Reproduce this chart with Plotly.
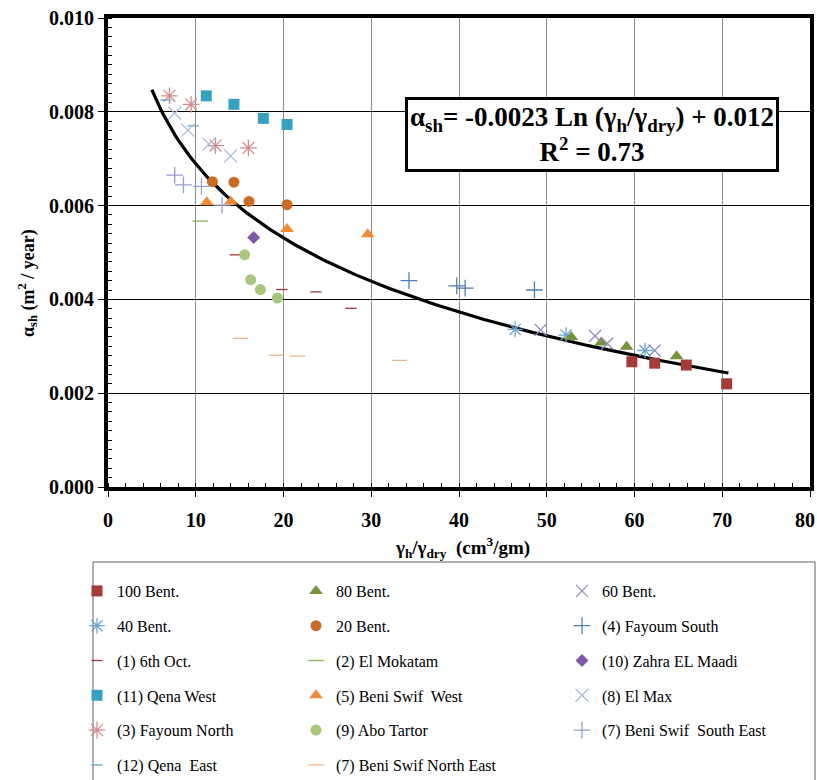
import numpy as np
import plotly.graph_objects as go

# ---------------- data ----------------
B100_X = [59.7, 62.3, 65.9, 70.5]
B100_Y = [0.00267, 0.00264, 0.00260, 0.00220]
B80_X = [52.8, 56.2, 59.1, 64.8]
B80_Y = [0.00320, 0.00308, 0.00299, 0.00279]
B60_X = [49.3, 55.5, 56.9, 62.3]
B60_Y = [0.00335, 0.00322, 0.00306, 0.00291]
B40_X = [46.4, 52.2, 61.2]
B40_Y = [0.00336, 0.00324, 0.00291]
B20_X = [11.9, 14.35, 16.07, 20.4]
B20_Y = [0.00651, 0.00650, 0.00609, 0.00602]
FAYOUM_S_X = [34.3, 39.75, 40.7, 48.6]
FAYOUM_S_Y = [0.00440, 0.00429, 0.00424, 0.00420]
OCT6_X = [14.5, 19.8, 23.7, 27.7]
OCT6_Y = [0.00495, 0.00421, 0.00416, 0.00381]
MOKATAM_X = [10.5]
MOKATAM_Y = [0.00567]
ZAHRA_X = [16.6]
ZAHRA_Y = [0.00532]
QENA_W_X = [11.2, 14.35, 17.7, 20.4]
QENA_W_Y = [0.00834, 0.00816, 0.00786, 0.00773]
BENI_W_X = [11.26, 14.0, 20.4, 29.6]
BENI_W_Y = [0.00607, 0.00609, 0.00550, 0.00539]
ELMAX_X = [7.6, 9.1, 11.5, 13.97]
ELMAX_Y = [0.00797, 0.00761, 0.00731, 0.00706]
FAYOUM_N_X = [7.0, 9.47, 12.25, 16.0]
FAYOUM_N_Y = [0.00834, 0.00816, 0.00728, 0.00723]
ABO_X = [15.57, 16.26, 17.37, 19.3]
ABO_Y = [0.00495, 0.00442, 0.00421, 0.00403]
BENI_SE_X = [7.6, 8.6, 10.65, 13.0]
BENI_SE_Y = [0.00665, 0.00644, 0.00641, 0.00601]
QENA_E_X = [6.6, 9.7]
QENA_E_Y = [0.00825, 0.00770]
BENI_NE_X = [15.1, 19.2, 21.6, 33.2]
BENI_NE_Y = [0.00317, 0.00281, 0.00279, 0.00270]

# logarithmic trendline as drawn (coefficients)
TREND_A = -0.00228
TREND_B = 0.01214
TREND_X_START = 5.0
TREND_X_END = 70.7

X_TICKS = [0, 10, 20, 30, 40, 50, 60, 70, 80]
X_TICK_LABELS = ["0", "10", "20", "30", "40", "50", "60", "70", "80\u00a0\u00a0"]
Y_TICKS = [0.000, 0.002, 0.004, 0.006, 0.008, 0.010]
Y_TICK_LABELS = ["0.000", "0.002", "0.004", "0.006", "0.008", "0.010"]

SERIF = "Liberation Serif"

# (name, x, y, symbol, color, size, legend)
series = [
    ("100 Bent.", B100_X, B100_Y, "square", "#A33B38", 11, "legend"),
    ("40 Bent.", B40_X, B40_Y, "asterisk-open", "#6EA6CF", 13, "legend"),
    ("(1) 6th Oct.", OCT6_X, OCT6_Y, "line-ew-open", "#9E3438", 8, "legend"),
    ("(11) Qena West", QENA_W_X, QENA_W_Y, "square", "#35A1BF", 11, "legend"),
    ("(3) Fayoum North", FAYOUM_N_X, FAYOUM_N_Y, "asterisk-open", "#D58C8C", 14, "legend"),
    ("(12) Qena  East", QENA_E_X, QENA_E_Y, "line-ew-open", "#5FA9CC", 8, "legend"),
    ("80 Bent.", B80_X, B80_Y, "triangle-up", "#76923C", 12, "legend2"),
    ("20 Bent.", B20_X, B20_Y, "circle", "#C96C26", 11, "legend2"),
    ("(2) El Mokatam", MOKATAM_X, MOKATAM_Y, "line-ew-open", "#8DAF5E", 11, "legend2"),
    ("(5) Beni Swif  West", BENI_W_X, BENI_W_Y, "triangle-up", "#F08A36", 12, "legend2"),
    ("(9) Abo Tartor", ABO_X, ABO_Y, "circle", "#A8C77E", 11, "legend2"),
    ("(7) Beni Swif North East", BENI_NE_X, BENI_NE_Y, "line-ew-open", "#F2B48A", 11, "legend2"),
    ("60 Bent.", B60_X, B60_Y, "x-thin-open", "#8A8CC4", 12, "legend3"),
    ("(4) Fayoum South", FAYOUM_S_X, FAYOUM_S_Y, "cross-thin-open", "#4F7FB8", 12, "legend3"),
    ("(10) Zahra EL Maadi", ZAHRA_X, ZAHRA_Y, "diamond", "#7E5AA6", 10, "legend3"),
    ("(8) El Max", ELMAX_X, ELMAX_Y, "x-thin-open", "#A7BBDD", 13, "legend3"),
    ("(7) Beni Swif  South East", BENI_SE_X, BENI_SE_Y, "cross-thin-open", "#9A9FCC", 12, "legend3"),
]

fig = go.Figure()

# trendline
tx = np.linspace(TREND_X_START, TREND_X_END, 200)
ty = TREND_A * np.log(tx) + TREND_B
fig.add_trace(go.Scatter(x=tx, y=ty, mode="lines", line=dict(color="black", width=3.2),
                         showlegend=False, hoverinfo="skip"))

for i, (name, xs, ys, sym, col, sz, leg) in enumerate(series):
    open_sym = sym.endswith("-open")
    fig.add_trace(go.Scatter(
        x=xs, y=ys, mode="markers", name=name, legend=leg, legendgroup=f"g{i}",
        marker=dict(symbol=sym, color=col, size=sz,
                    line=dict(color=col, width=1.3 if open_sym else 0)),
    ))

W, H = 817, 780
L_PX, R_PX, T_PX, B_PX = 108, 810, 18, 487
pw, ph = R_PX - L_PX, B_PX - T_PX


def px2paper_x(px):
    return (px - L_PX) / pw


def px2paper_y(py):
    return (B_PX - py) / ph


def leg(xpx, ytop):
    return dict(orientation="v", traceorder="grouped", tracegroupgap=11,
                font=dict(family=SERIF, size=16, color="black"),
                bgcolor="rgba(0,0,0,0)", borderwidth=0,
                xanchor="left", yanchor="top", itemwidth=30,
                x=px2paper_x(xpx), y=px2paper_y(ytop))


LEG_TOP = 574
fig.update_layout(
    width=W, height=H,
    margin=dict(l=L_PX, r=W - R_PX, t=T_PX, b=H - B_PX, autoexpand=False),
    paper_bgcolor="white", plot_bgcolor="white",
    font=dict(family=SERIF, color="black"),
    legend=leg(77, LEG_TOP),
    legend2=leg(296, LEG_TOP),
    legend3=leg(562, LEG_TOP),
    xaxis=dict(range=[0, 80], tickvals=X_TICKS, ticktext=X_TICK_LABELS,
               showgrid=True, gridcolor="#8c8c8c", gridwidth=1,
               zeroline=False, showline=True, mirror=True, linecolor="black", linewidth=4,
               ticks="outside", ticklen=6, tickcolor="black", tickwidth=1,
               ticklabelstandoff=6, ticklabeloverflow="allow",
               minor=dict(ticks="inside", dtick=2, ticklen=4, tickcolor="black", showgrid=False),
               tickfont=dict(family=SERIF, size=20, weight="bold")),
    yaxis=dict(range=[0, 0.010], tickvals=Y_TICKS, ticktext=Y_TICK_LABELS,
               showgrid=True, gridcolor="black", gridwidth=1,
               zeroline=False, showline=True, mirror=True, linecolor="black", linewidth=4,
               ticks="outside", ticklen=6, tickcolor="black", tickwidth=1,
               ticklabeloverflow="allow",
               minor=dict(ticks="inside", dtick=0.0002, ticklen=4, tickcolor="black", showgrid=False),
               tickfont=dict(family=SERIF, size=20, weight="bold")),
)

# axis titles
fig.add_annotation(
    x=px2paper_x(462), y=px2paper_y(547), xref="paper", yref="paper", showarrow=False,
    xanchor="center", yanchor="middle",
    text="<b>γ<sub>h</sub>/γ<sub>dry</sub>  (cm<sup>3</sup>/gm)</b>",
    font=dict(family=SERIF, size=19, color="black"))
fig.add_annotation(
    x=px2paper_x(28), y=px2paper_y(283), xref="paper", yref="paper", showarrow=False,
    xanchor="center", yanchor="middle",
    textangle=-90, text="<b>α<sub>sh</sub> (m<sup>2</sup> / year)</b>",
    font=dict(family=SERIF, size=18, color="black"))

fig.add_annotation(
    x=55.1, y=0.00752, xref="x", yref="y", showarrow=False,
    text="<b>α<sub>sh</sub>= -0.0023 Ln (γ<sub>h</sub>/γ<sub>dry</sub>) + 0.012<br>R<sup>2</sup> = 0.73</b>",
    font=dict(family=SERIF, size=27, color="black"), align="center",
    bgcolor="white", bordercolor="black", borderwidth=3, borderpad=2,
)

# legend frame
fig.add_shape(type="rect", xref="paper", yref="paper",
              x0=px2paper_x(93), x1=px2paper_x(815), y0=px2paper_y(562), y1=px2paper_y(795),
              line=dict(color="#606060", width=1), fillcolor="rgba(0,0,0,0)", layer="above")

fig.write_html(
    "out.html",
    config={"displayModeBar": False},
    post_script="document.body.style.margin='0';document.body.style.overflow='hidden';",
)
